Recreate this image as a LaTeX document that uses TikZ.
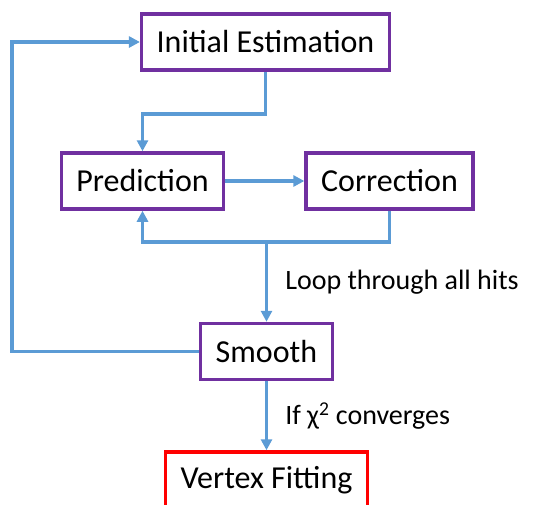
\documentclass[tikz,border=0pt]{standalone}
\usepackage{fontspec}
\setmainfont{Carlito}
\usetikzlibrary{arrows.meta,positioning}
\definecolor{FlowBlue}{HTML}{5B9BD5}
\definecolor{BoxPurple}{HTML}{7030A0}
\definecolor{BoxRed}{HTML}{FF0000}
\begin{document}
\begin{tikzpicture}[x=1pt, y=-1pt,
    font=\fontsize{32}{36}\selectfont,
    stage/.style={draw=BoxPurple, line width=3.5pt, fill=white, inner xsep=15pt,
      minimum height=56pt},
    flow/.style={FlowBlue, line width=3.5pt, -{Triangle[length=11pt,width=11pt]}},
    note/.style={right, inner sep=0pt, text=black, font=\fontsize{28}{32}\selectfont}]
  \useasboundingbox (0,0) rectangle (540,504);
  \node[stage] (init) at (265.5,42) {Initial Estimation};
  \node[stage] (pred) at (142.5,181) {Prediction};
  \node[stage] (corr) at (389.5,181) {Correction};
  \node[stage] (smooth) at (266.5,351.5) {Smooth};
  \node[stage, draw=BoxRed] (vertex) at (266.5,480) {Vertex Fitting};
  % estimation feeds the prediction step
  \draw[flow] (init.south) -- ++(0,42) -| (pred.north);
  \draw[flow] (pred) -- (corr);
  % corrected state goes back to the next hit
  \draw[flow] (corr.south) -- ++(0,31) coordinate (back) -| (pred.south);
  \draw[flow] (smooth.north |- back) -- (smooth.north)
    node[note, midway, xshift=17pt] {Loop through all hits};
  % iterate from the smoothed result
  \draw[flow] (smooth.west) -- ++(-187,0) |- (init.west);
  \draw[flow] (smooth) -- (vertex)
    node[note, midway, xshift=17pt] {If χ\textsuperscript{2} converges};
\end{tikzpicture}
\end{document}
